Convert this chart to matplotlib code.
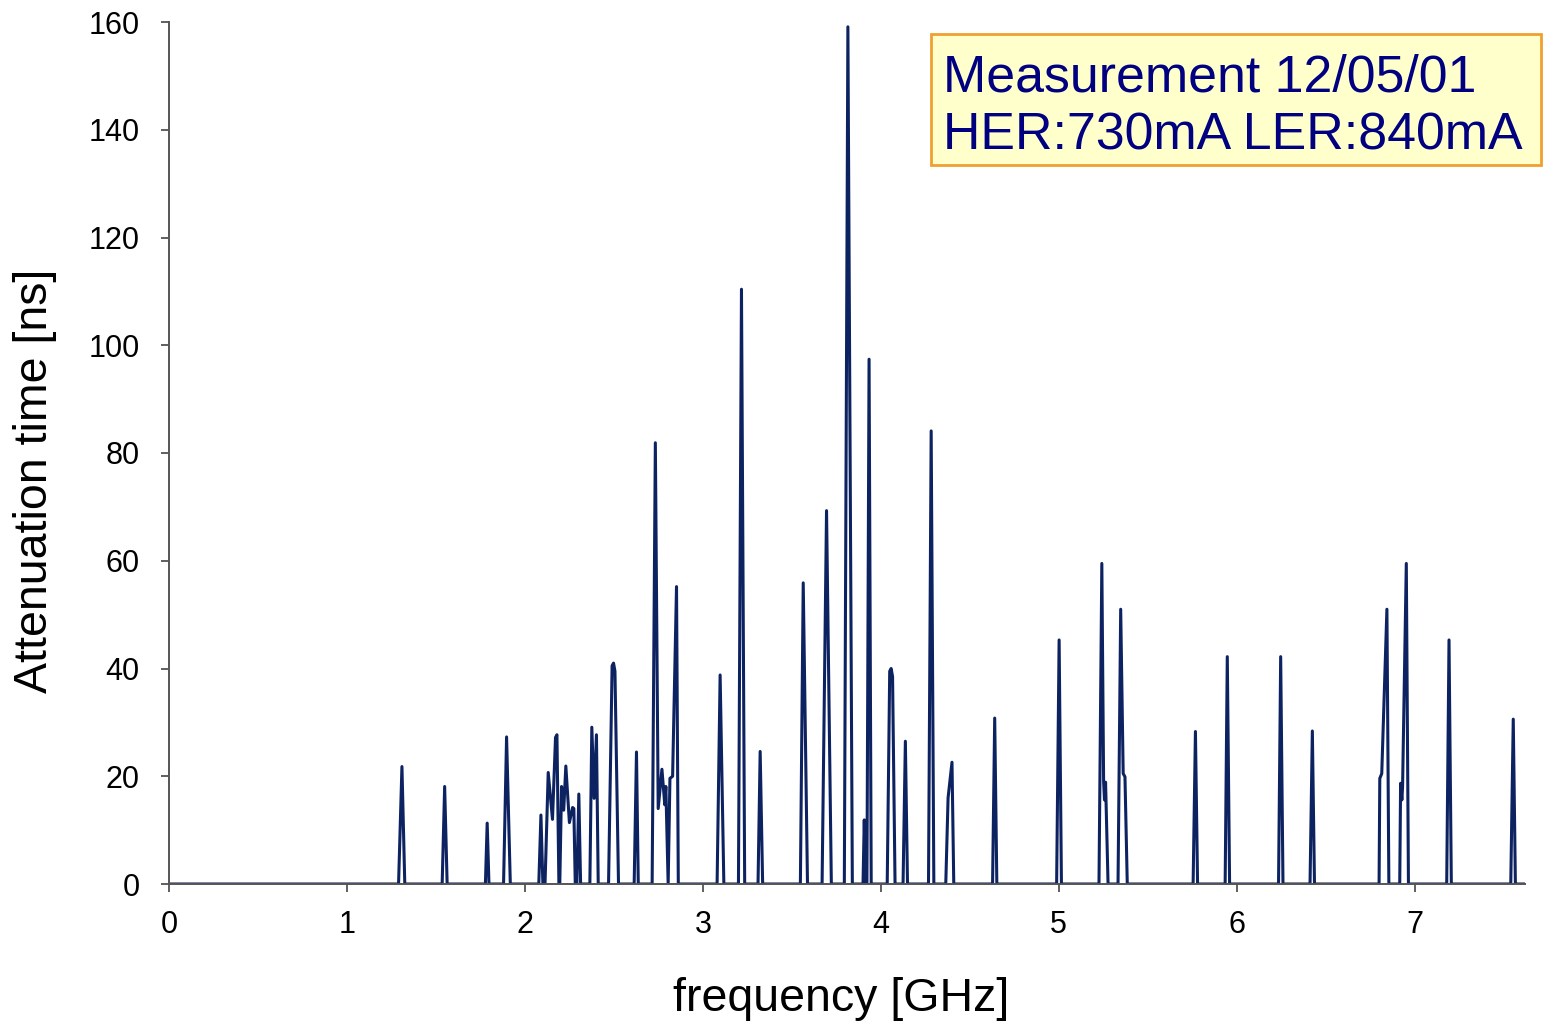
import matplotlib
matplotlib.use("Agg")
import matplotlib.pyplot as plt
from matplotlib.patches import Rectangle

# frequency [GHz] / attenuation time [ns] polyline vertices
freq = [0.000, 1.290, 1.309, 1.325, 1.535, 1.549, 1.563, 1.778, 1.788, 1.798,
        1.880, 1.897, 1.918, 2.078, 2.090, 2.101, 2.113, 2.131, 2.155, 2.172,
        2.180, 2.191, 2.196, 2.206, 2.218, 2.230, 2.250, 2.268, 2.275, 2.283,
        2.292, 2.303, 2.313, 2.365, 2.376, 2.389, 2.402, 2.412, 2.470, 2.490,
        2.498, 2.506, 2.526, 2.614, 2.627, 2.637, 2.715, 2.733, 2.749, 2.770,
        2.786, 2.792, 2.805, 2.815, 2.830, 2.852, 2.862, 3.080, 3.097, 3.118,
        3.200, 3.217, 3.235, 3.310, 3.322, 3.336, 3.548, 3.564, 3.588, 3.670,
        3.695, 3.722, 3.795, 3.815, 3.840, 3.900, 3.907, 3.914, 3.922, 3.934,
        3.946, 4.036, 4.050, 4.058, 4.066, 4.080, 4.125, 4.138, 4.150, 4.268,
        4.283, 4.298, 4.365, 4.378, 4.400, 4.410, 4.628, 4.640, 4.652, 4.988,
        5.002, 5.015, 5.226, 5.242, 5.252, 5.257, 5.263, 5.277, 5.333, 5.348,
        5.362, 5.372, 5.385, 5.755, 5.768, 5.780, 5.935, 5.947, 5.960, 6.235,
        6.247, 6.260, 6.412, 6.425, 6.437, 6.800, 6.804, 6.815, 6.844, 6.855,
        6.916, 6.921, 6.928, 6.932, 6.953, 6.965, 7.180, 7.193, 7.206, 7.540,
        7.554, 7.566, 7.620]
atten = [0.0, 0.0, 21.8, 0.0, 0.0, 18.1, 0.0, 0.0, 11.3, 0.0,
         0.0, 27.3, 0.0, 0.0, 12.8, 0.0, 0.0, 20.7, 12.0, 27.2,
         27.7, 0.0, 0.0, 18.1, 13.7, 21.9, 11.4, 14.2, 14.0, 0.0,
         0.0, 16.7, 0.0, 0.0, 29.1, 15.9, 27.7, 0.0, 0.0, 40.5,
         41.0, 39.5, 0.0, 0.0, 24.5, 0.0, 0.0, 81.9, 14.0, 21.3,
         14.7, 18.1, 0.0, 19.6, 20.0, 55.2, 0.0, 0.0, 38.8, 0.0,
         0.0, 110.4, 0.0, 0.0, 24.6, 0.0, 0.0, 55.9, 0.0, 0.0,
         69.3, 0.0, 0.0, 159.1, 0.0, 0.0, 11.9, 0.0, 0.0, 97.4,
         0.0, 0.0, 39.5, 40.0, 38.5, 0.0, 0.0, 26.5, 0.0, 0.0,
         84.1, 0.0, 0.0, 16.0, 22.6, 0.0, 0.0, 30.8, 0.0, 0.0,
         45.3, 0.0, 0.0, 59.5, 19.0, 15.6, 18.9, 0.0, 0.0, 51.0,
         20.5, 19.9, 0.0, 0.0, 28.3, 0.0, 0.0, 42.2, 0.0, 0.0,
         42.2, 0.0, 0.0, 28.4, 0.0, 0.0, 19.6, 20.5, 51.0, 0.0,
         0.0, 18.7, 15.6, 18.0, 59.5, 0.0, 0.0, 45.3, 0.0, 0.0,
         30.6, 0.0, 0.0]

x_ticks = [0, 1, 2, 3, 4, 5, 6, 7]
y_ticks = [0, 20, 40, 60, 80, 100, 120, 140, 160]
title_lines = ["Measurement 12/05/01", "HER:730mA LER:840mA"]

plt.rcParams['font.family'] = ['Liberation Sans', 'DejaVu Sans']

W, H = 1543, 1023
fig = plt.figure(figsize=(W / 100, H / 100), dpi=100)
ax = fig.add_axes([169 / W, 1 - 884 / H, (1525 - 169) / W, (884 - 22) / H])

ax.plot(freq, atten, color='#0d2261', lw=2.2, solid_joinstyle='round')
ax.set_xlim(0, 7.62)
ax.set_ylim(0, 160)
ax.set_xticks(x_ticks)
ax.set_yticks(y_ticks)
ax.tick_params(axis='both', direction='out', length=6, width=1.2, color='#444444',
               labelsize=22, labelcolor='#000000')
ax.tick_params(axis='x', pad=13)
ax.tick_params(axis='y', pad=15)
for s in ['top', 'right']:
    ax.spines[s].set_visible(False)
for s in ['left', 'bottom']:
    ax.spines[s].set_color('#555555')
    ax.spines[s].set_linewidth(1.4)
ax.set_xlabel('frequency [GHz]', fontsize=33.5, color='#000000')
ax.xaxis.set_label_coords((841 - 169) / 1356, -(977 - 884) / 862)
ax.set_ylabel('Attenuation time [ns]', fontsize=33.5, color='#000000')
ax.yaxis.set_label_coords((57 - 169) / 1356, (884 - 481) / 862)

# annotation box
fig.patches.append(Rectangle((931 / W, 1 - 165 / H), 610 / W, 131 / H,
                             transform=fig.transFigure, facecolor='#FFFFCC',
                             edgecolor='#F0A030', lw=2, zorder=5))
fig.text(943 / W, 1 - 92 / H, title_lines[0], fontsize=37.4, color='#000080',
         va='baseline', ha='left', zorder=6)
fig.text(943 / W, 1 - 150 / H, title_lines[1], fontsize=37.4, color='#000080',
         va='baseline', ha='left', zorder=6)

fig.savefig('out.png', dpi=100)
